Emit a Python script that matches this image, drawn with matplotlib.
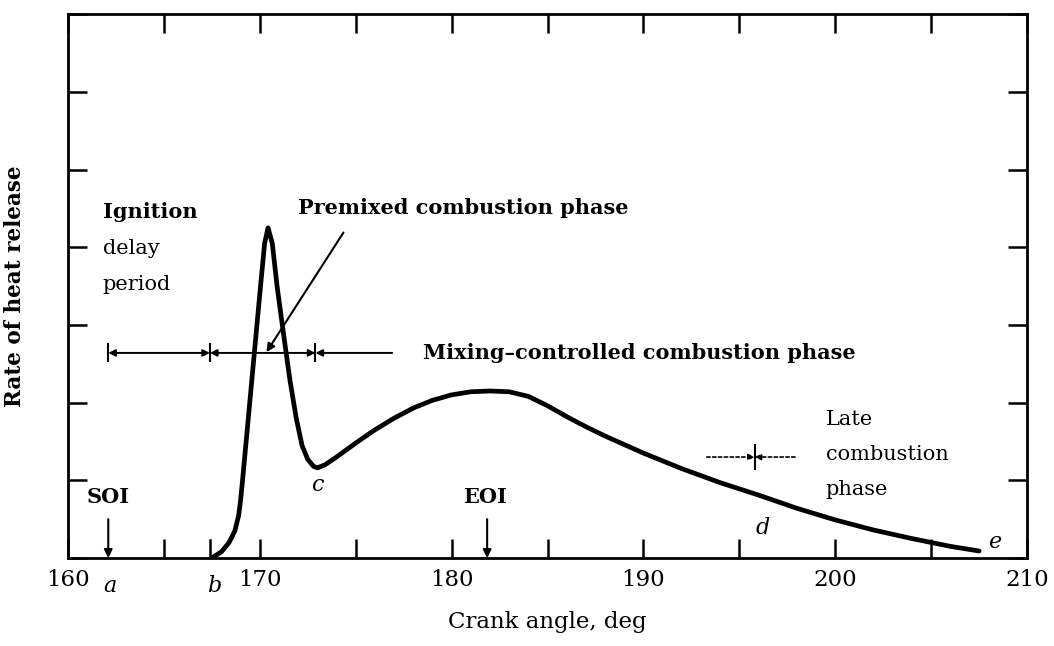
import numpy as np
import matplotlib
matplotlib.use("Agg")
import matplotlib.pyplot as plt

plt.rcParams['font.family'] = ['DejaVu Serif']

# heat release rate curve (crank angle in deg, arbitrary units)
angle = [167.5, 168.0, 168.4, 168.7, 168.9, 169.0, 169.1, 169.4, 169.7, 170.0,
         170.25, 170.43, 170.65, 170.9, 171.2, 171.57, 171.9, 172.2, 172.5, 172.8,
         173.0, 173.4, 174.0, 175.0, 176.0, 177.0, 178.0, 179.0, 180.0, 181.0,
         182.0, 183.0, 184.0, 185.0, 186.0, 187.0, 188.0, 190.0, 192.0, 194.0,
         196.0, 198.0, 200.0, 202.0, 204.0, 206.0, 207.5]
rate = [0.0, 0.08, 0.2, 0.35, 0.55, 0.75, 1.0, 1.8, 2.6, 3.4,
        4.05, 4.25, 4.05, 3.5, 2.95, 2.29, 1.8, 1.45, 1.27, 1.18,
        1.16, 1.2, 1.3, 1.48, 1.65, 1.8, 1.93, 2.03, 2.1, 2.14,
        2.15, 2.14, 2.08, 1.96, 1.82, 1.69, 1.57, 1.35, 1.15, 0.97,
        0.81, 0.64, 0.49, 0.36, 0.25, 0.15, 0.09]

# phase boundaries
soi = 162.1
b_pt = 167.4
c_pt = 172.9
eoi = 181.85
d_pt = 195.8

xticks = [160, 165, 170, 175, 180, 185, 190, 195, 200, 205, 210]
xticklabels = ['160', '', '170', '', '180', '', '190', '', '200', '', '210']

fig = plt.figure(figsize=(10.54, 6.46), dpi=100)
ax = fig.add_axes([0.0645, 0.1362, 0.91, 0.8418])

ax.plot(angle, rate, color='black', lw=3.4, solid_capstyle='round',
        solid_joinstyle='round')

ax.set_xlim(160, 210)
ax.set_ylim(0, 7)
ax.set_xticks(xticks)
ax.set_xticklabels(xticklabels)
ax.set_yticks(range(0, 8))
ax.set_yticklabels([])
ax.tick_params(direction='in', length=14, width=1.8, top=True, right=True,
               labelsize=16.5, pad=8)
for s in ax.spines.values():
    s.set_linewidth(2.0)

ax.set_xlabel('Crank angle, deg', fontsize=16.5, labelpad=14)
ax.set_ylabel('Rate of heat release', fontsize=15.5, fontweight='bold', labelpad=22)

# texts
ax.text(161.8, 4.45, 'Ignition', fontsize=15, fontweight='bold', va='center')
ax.text(161.8, 3.98, 'delay', fontsize=15, va='center')
ax.text(161.8, 3.52, 'period', fontsize=15, va='center')
ax.text(172.0, 4.5, 'Premixed combustion phase', fontsize=15, fontweight='bold', va='center')
ax.annotate('', xy=(170.27, 2.62), xytext=(174.44, 4.22),
            arrowprops=dict(arrowstyle='-|>', color='black', lw=1.5,
                            mutation_scale=12))
ax.text(178.5, 2.64, 'Mixing\u2013controlled combustion phase', fontsize=15,
        fontweight='bold', va='center')
ax.text(199.5, 1.78, 'Late', fontsize=15, va='center')
ax.text(199.5, 1.33, 'combustion', fontsize=15, va='center')
ax.text(199.5, 0.88, 'phase', fontsize=15, va='center')

# dimension line for the phases
ydim = 2.64
for xb in (soi, b_pt, c_pt):
    ax.plot([xb, xb], [ydim - 0.11, ydim + 0.11], color='black', lw=1.5)
arr = dict(arrowstyle='<|-|>', color='black', lw=1.4, mutation_scale=10,
           shrinkA=0, shrinkB=0)
ax.annotate('', xy=(soi, ydim), xytext=(b_pt, ydim), arrowprops=arr)
ax.annotate('', xy=(b_pt, ydim), xytext=(c_pt, ydim), arrowprops=arr)
ax.annotate('', xy=(c_pt, ydim), xytext=(176.9, ydim),
            arrowprops=dict(arrowstyle='-|>', color='black', lw=1.4,
                            mutation_scale=10, shrinkA=0, shrinkB=0))

# dashed marker at d
ydd = 1.30
ax.plot([d_pt, d_pt], [ydd - 0.16, ydd + 0.16], color='black', lw=1.5)
ax.annotate('', xy=(d_pt, ydd), xytext=(193.3, ydd),
            arrowprops=dict(arrowstyle='-|>', color='black', lw=1.2, ls=(0, (2, 1.5)),
                            mutation_scale=9, shrinkA=0, shrinkB=0))
ax.annotate('', xy=(d_pt, ydd), xytext=(197.9, ydd),
            arrowprops=dict(arrowstyle='-|>', color='black', lw=1.2, ls=(0, (2, 1.5)),
                            mutation_scale=9, shrinkA=0, shrinkB=0))

# injection timing
ax.text(soi, 0.79, 'SOI', fontsize=15, fontweight='bold', ha='center', va='center')
ax.annotate('', xy=(soi, 0.0), xytext=(soi, 0.5),
            arrowprops=dict(arrowstyle='-|>', color='black', lw=1.5,
                            mutation_scale=12, shrinkA=0, shrinkB=0))
ax.text(eoi - 0.1, 0.79, 'EOI', fontsize=15, fontweight='bold', ha='center', va='center')
ax.annotate('', xy=(eoi, 0.0), xytext=(eoi, 0.5),
            arrowprops=dict(arrowstyle='-|>', color='black', lw=1.5,
                            mutation_scale=12, shrinkA=0, shrinkB=0))
ax.plot([b_pt, b_pt], [0, 0.23], color='black', lw=1.8)

# point letters
ax.text(173.0, 0.94, 'c', fontsize=16, style='italic', ha='center', va='center')
ax.text(196.2, 0.39, 'd', fontsize=16, style='italic', ha='center', va='center')
ax.text(208.3, 0.2, 'e', fontsize=16, style='italic', ha='center', va='center')
ax.text(162.2, -0.36, 'a', fontsize=16, style='italic', ha='center', va='center',
        clip_on=False)
ax.text(167.6, -0.36, 'b', fontsize=16, style='italic', ha='center', va='center',
        clip_on=False)

fig.savefig('out.png', dpi=100)
